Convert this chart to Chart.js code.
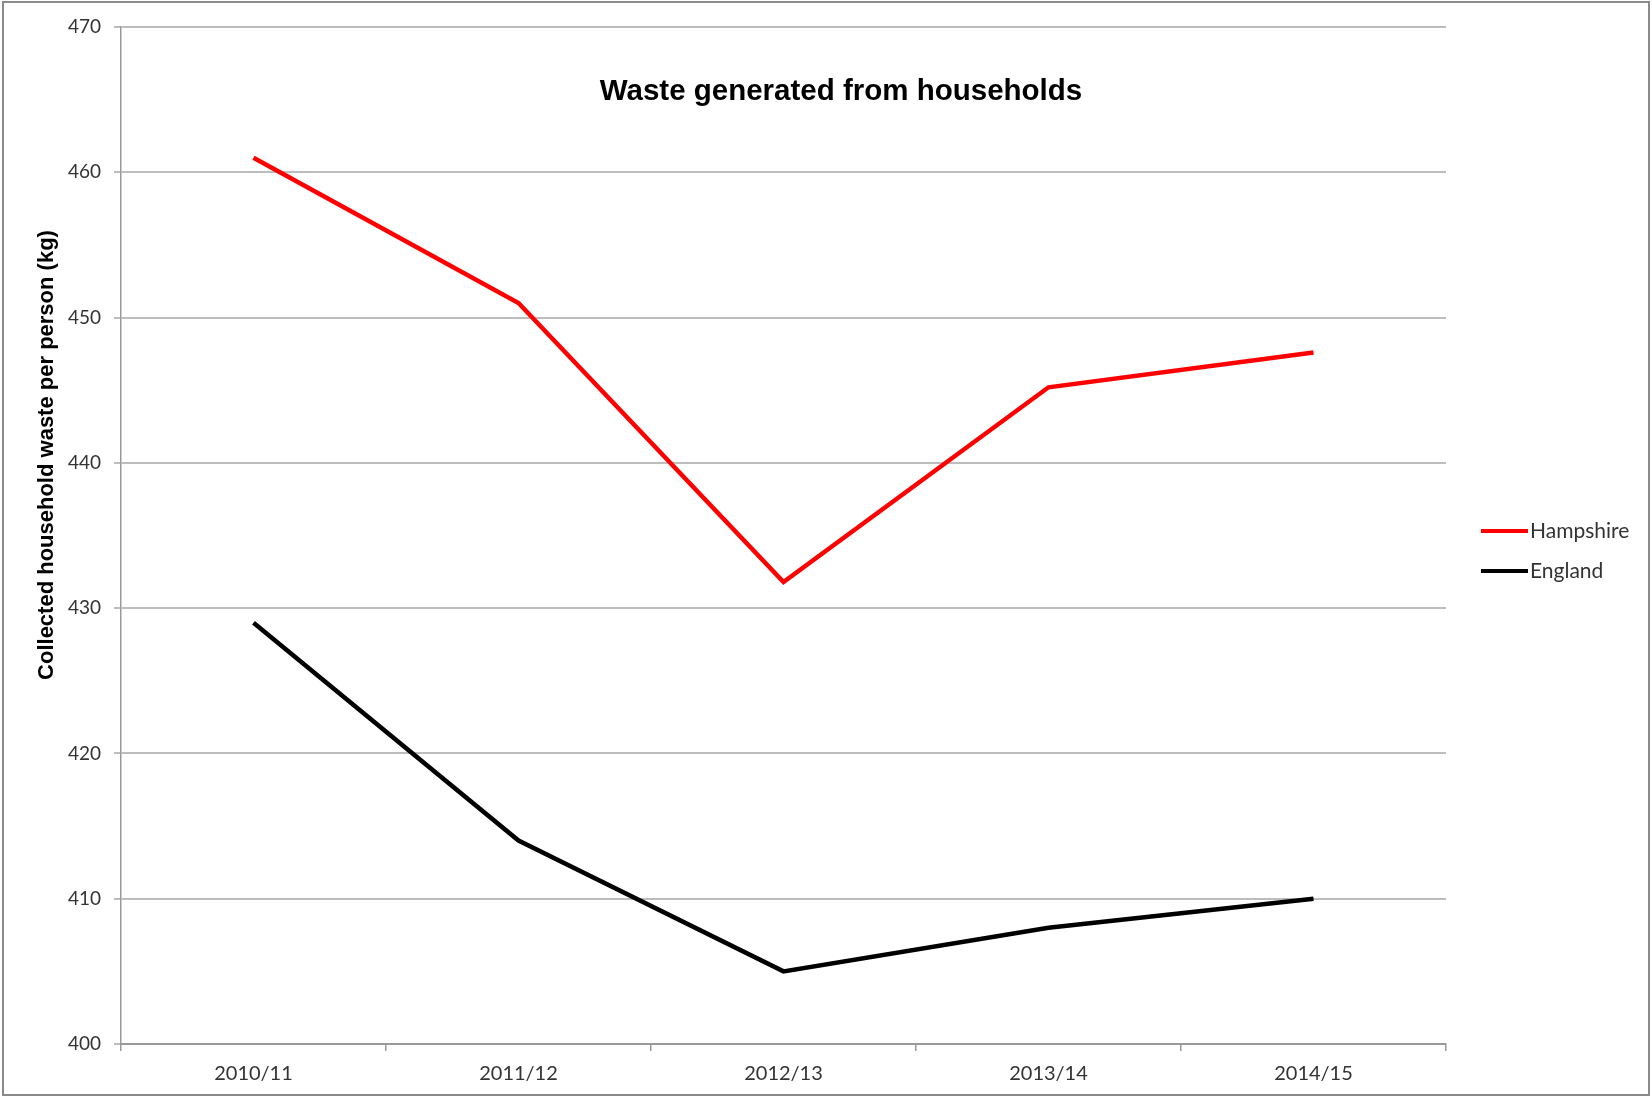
<!DOCTYPE html>
<html>
<head>
<meta charset="utf-8">
<script src="https://cdn.jsdelivr.net/npm/chart.js@4.4.1/dist/chart.umd.min.js"></script>
<style>
  html, body { margin: 0; padding: 0; background: #fff; }
  #wrap { width: 1652px; height: 1099px; position: relative; }
</style>
</head>
<body>
<div id="wrap"><canvas id="waste-chart" width="1652" height="1099"></canvas></div>
<script>
const years = ["2010/11", "2011/12", "2012/13", "2013/14", "2014/15"];
const hampshire = [461, 451, 431.8, 445.2, 447.6];
const england = [429, 414, 405, 408, 410];
const yTicks = [400, 410, 420, 430, 440, 450, 460, 470];

const chartTitle = "Waste generated from households";
const yTitle = "Collected household waste per person (kg)";

const tickFont = "Lato";
const boldFont = "'Liberation Sans', Arial, sans-serif";

// title, axis title, legend and frame are drawn on top, like the excel original
const extras = {
  id: "extras",
  afterDraw(chart) {
    const c = chart.ctx;
    c.save();
    // outer frame
    c.strokeStyle = "#8a8a8a";
    c.lineWidth = 2;
    c.strokeRect(3, 2, 1646, 1093);

    c.fillStyle = "#000";
    c.textAlign = "center";
    c.textBaseline = "middle";
    c.font = "bold 29.5px " + boldFont;
    c.fillText(chartTitle, 841, 92);

    c.save();
    c.translate(47, 455);
    c.rotate(-Math.PI / 2);
    c.font = "bold 22px " + boldFont;
    c.fillText(yTitle, 0, 0);
    c.restore();

    // legend
    const items = chart.data.datasets;
    items.forEach((ds, i) => {
      const y = 531 + i * 40;
      c.strokeStyle = ds.borderColor;
      c.lineWidth = 4;
      c.beginPath();
      c.moveTo(1481, y);
      c.lineTo(1528, y);
      c.stroke();
      c.fillStyle = "#333";
      c.textAlign = "left";
      c.font = "21px " + tickFont;
      c.fillText(ds.label, 1530, y);
    });
    c.restore();
  }
};

new Chart(document.getElementById("waste-chart"), {
  type: "line",
  data: {
    labels: years,
    datasets: [
      { label: "Hampshire", data: hampshire, borderColor: "#ff0000", borderWidth: 4.5, tension: 0, pointRadius: 0 },
      { label: "England", data: england, borderColor: "#000000", borderWidth: 4.5, tension: 0, pointRadius: 0 }
    ]
  },
  options: {
    responsive: false,
    animation: false,
    devicePixelRatio: 1,
    layout: { padding: { left: 0, right: 206, top: 27, bottom: 0 } },
    plugins: { legend: { display: false }, tooltip: { enabled: false } },
    scales: {
      x: {
        offset: true,
        afterFit: (s) => { s.height = 55; },
        grid: { offset: true, drawOnChartArea: false, color: "#9a9a9a", lineWidth: 1.5, tickLength: 7 },
        border: { color: "#9a9a9a", width: 2 },
        ticks: { color: "#333", font: { family: tickFont, size: 20 }, padding: 11, maxRotation: 0 }
      },
      y: {
        min: 400,
        max: 470,
        afterFit: (s) => { s.width = 121; },
        afterBuildTicks: (s) => { s.ticks = yTicks.map(v => ({ value: v })); },
        grid: { color: "#bdbdbd", lineWidth: 2, tickLength: 7 },
        border: { color: "#9a9a9a", width: 1.5 },
        ticks: { color: "#333", font: { family: tickFont, size: 19 }, padding: 13 }
      }
    }
  },
  plugins: [extras]
});
</script>
</body>
</html>
